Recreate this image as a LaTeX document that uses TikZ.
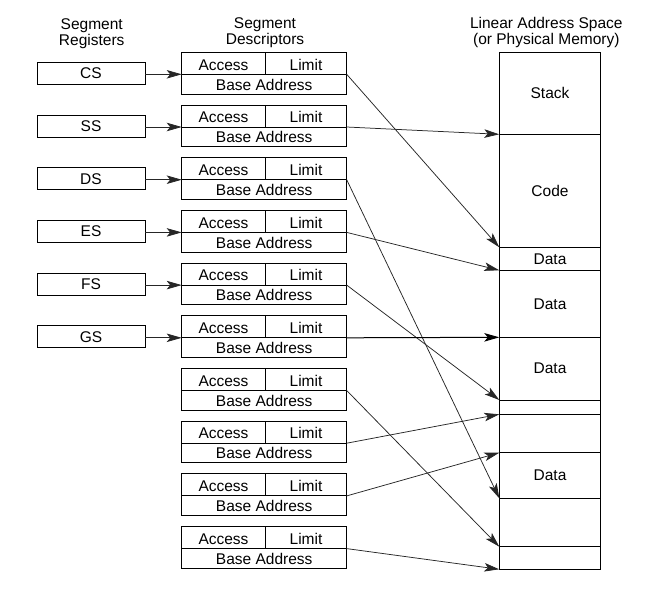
\documentclass[tikz,border=0pt]{standalone}
\usepackage{fontspec}
\setmainfont{Liberation Sans}
\usetikzlibrary{arrows.meta}
\begin{document}
\begin{tikzpicture}[x=1pt,y=-1pt,
  txt/.style={font=\fontsize{15.5}{16}\selectfont, inner sep=0pt, outer sep=0pt},
  box/.style={draw, line width=1pt, outer sep=0pt},
  regbox/.style={box, txt, minimum width=108pt, minimum height=22pt},
  descbox/.style={box, minimum width=165pt, minimum height=41.7pt, anchor=north west, inner sep=0pt},
  seg/.style={box, txt, minimum width=101.4pt, anchor=north west},
  head/.style={txt, align=center, anchor=north},
  link/.style={draw=black!85, line width=0.75pt, -{Stealth[length=15pt,width=8.5pt,inset=3.5pt]}}
]
\useasboundingbox (0,0) rectangle (645,592);

% column headings
\node[head] (hreg)  at (91.7,18.2)  {Segment\\Registers};
\node[head] (hdesc) at (265,17.2)   {Segment\\Descriptors};
\node[head] (hmem)  at (546.3,17.2) {Linear Address Space\\(or Physical Memory)};

% segment descriptors
\foreach \i in {1,...,10}{
  \pgfmathsetmacro{\T}{52.3+52.7*(\i-1)}
  \node[descbox] (d\i) at (181.7,\T) {};
  \coordinate (d\i-l) at (181.7,\T+22);
  \coordinate (d\i-r) at (346.7,\T+22);
  \draw[line width=1pt] (d\i-l) -- (d\i-r);
  \draw[line width=1pt] (265,\T) -- (265,\T+22);
  \node[txt, anchor=base] at (223.5,\T+17.7) {Access};
  \node[txt, anchor=base] at (306,\T+17.7) {Limit};
  \node[txt, anchor=base] at (264.2,\T+37.7) {Base Address};
}

% segment registers
\foreach \i/\r in {1/CS,2/SS,3/DS,4/ES,5/FS,6/GS}{
  \pgfmathsetmacro{\T}{52.3+52.7*(\i-1)}
  \node[regbox] (r\i) at (91,\T+21) {\r};
  \draw[link] (r\i.east |- d\i-l) -- (d\i-l);
}

% linear address space
\node[seg, minimum height=82pt]   (m1)  at (499.3,52.3)  {Stack};
\node[seg, minimum height=113pt]  (m2)  at (499.3,134.3) {Code};
\node[seg, minimum height=23pt]   (m3)  at (499.3,247.3) {Data};
\node[seg, minimum height=67pt]   (m4)  at (499.3,270.3) {Data};
\node[seg, minimum height=62.7pt] (m5)  at (499.3,337.3) {Data};
\node[seg, minimum height=14.3pt] (m6)  at (499.3,400)   {};
\node[seg, minimum height=38.4pt] (m7)  at (499.3,414.3) {};
\node[seg, minimum height=45.6pt] (m8)  at (499.3,452.7) {Data};
\node[seg, minimum height=48.4pt] (m9)  at (499.3,498.3) {};
\node[seg, minimum height=22.6pt] (m10) at (499.3,546.7) {};

% base address links into memory
\foreach \i/\t in {1/m3.north west,2/m2.north west,3/m9.north west,4/m4.north west,
                   5/m6.north west,7/m10.north west,8/m7.north west,9/m8.north west,
                   10/m10.south west}{
  \draw[link] (d\i-r) -- (\t);
}
\draw[link, draw=black, line width=1pt] (d6-r) -- (m5.north west);
\end{tikzpicture}
\end{document}
